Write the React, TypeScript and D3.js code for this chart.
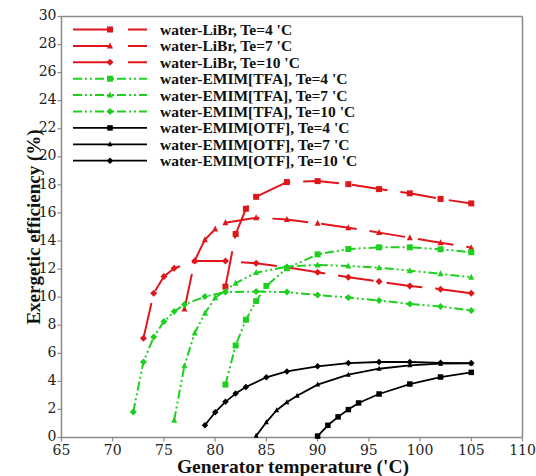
import React from "react";
import * as d3 from "d3";

const W = 536;
const H = 476;

// LiBr (red)
const librT4x = [81, 82, 83, 84, 87, 90, 93, 96, 99, 102, 105];
const librT4y = [10.75, 14.5, 16.3, 17.15, 18.2, 18.27, 18.05, 17.7, 17.4, 17.0, 16.68];
const librT7x = [77, 78, 79, 80, 81, 84, 87, 90, 93, 96, 99, 102, 105];
const librT7y = [9.15, 12.6, 14.1, 14.85, 15.3, 15.66, 15.54, 15.26, 14.95, 14.6, 14.24, 13.88, 13.53];
const librT10x = [73, 74, 75, 76, 78, 81, 84, 87, 90, 93, 96, 99, 102, 105];
const librT10y = [7.08, 10.28, 11.47, 12.06, 12.58, 12.58, 12.41, 12.13, 11.78, 11.42, 11.11, 10.8, 10.57, 10.28];

// EMIM[TFA] (green)
const tfaT4x = [81, 82, 83, 84, 85, 87, 90, 93, 96, 99, 102, 105];
const tfaT4y = [3.77, 6.56, 8.39, 9.72, 10.8, 12.06, 13.05, 13.43, 13.55, 13.55, 13.41, 13.2];
const tfaT7x = [76, 77, 78, 79, 80, 82, 84, 87, 90, 93, 96, 99, 102, 105];
const tfaT7y = [1.23, 5.12, 7.44, 8.86, 9.95, 11.0, 11.75, 12.17, 12.3, 12.22, 12.1, 11.89, 11.66, 11.42];
const tfaT10x = [72, 73, 74, 75, 76, 77, 79, 81, 84, 87, 90, 93, 96, 99, 102, 105];
const tfaT10y = [1.82, 5.38, 7.16, 8.27, 8.98, 9.48, 10.04, 10.36, 10.4, 10.36, 10.16, 9.97, 9.76, 9.52, 9.33, 9.05];

// EMIM[OTF] (black)
const otfT4x = [90, 91, 92, 93, 94, 96, 99, 102, 105];
const otfT4y = [0.1, 0.87, 1.47, 1.99, 2.46, 3.1, 3.81, 4.31, 4.64];
const otfT7x = [84, 85, 86, 87, 88, 90, 93, 96, 99, 102, 105];
const otfT7y = [0.12, 1.09, 1.94, 2.51, 2.98, 3.77, 4.48, 4.9, 5.14, 5.26, 5.28];
const otfT10x = [79, 80, 81, 82, 83, 85, 87, 90, 93, 96, 99, 102, 105];
const otfT10y = [0.87, 1.8, 2.54, 3.13, 3.6, 4.29, 4.71, 5.07, 5.3, 5.38, 5.38, 5.32, 5.3];

const xTicks = [65, 70, 75, 80, 85, 90, 95, 100, 105, 110];
const yTicks = [0, 2, 4, 6, 8, 10, 12, 14, 16, 18, 20, 22, 24, 26, 28, 30];

const RED = "#e0161b";
const GREEN = "#1ed01e";
const BLACK = "#000000";
const RED_DASH = "36,13";
const GREEN_DASH = "9,3,2,3,2,3";

type Shape = "square" | "triangle" | "diamond";
interface Series {
  name: string;
  xs: number[];
  ys: number[];
  color: string;
  dash: string | null;
  shape: Shape;
  width: number;
  msize: number;
}

const series: Series[] = [
  { name: "water-LiBr, Te=4 'C", xs: librT4x, ys: librT4y, color: RED, dash: RED_DASH, shape: "square", width: 2, msize: 6 },
  { name: "water-LiBr, Te=7 'C", xs: librT7x, ys: librT7y, color: RED, dash: RED_DASH, shape: "triangle", width: 2, msize: 6 },
  { name: "water-LiBr, Te=10 'C", xs: librT10x, ys: librT10y, color: RED, dash: RED_DASH, shape: "diamond", width: 2, msize: 7 },
  { name: "water-EMIM[TFA], Te=4 'C", xs: tfaT4x, ys: tfaT4y, color: GREEN, dash: GREEN_DASH, shape: "square", width: 2, msize: 6 },
  { name: "water-EMIM[TFA], Te=7 'C", xs: tfaT7x, ys: tfaT7y, color: GREEN, dash: GREEN_DASH, shape: "triangle", width: 2, msize: 6 },
  { name: "water-EMIM[TFA], Te=10 'C", xs: tfaT10x, ys: tfaT10y, color: GREEN, dash: GREEN_DASH, shape: "diamond", width: 2, msize: 7 },
  { name: "water-EMIM[OTF], Te=4 'C", xs: otfT4x, ys: otfT4y, color: BLACK, dash: null, shape: "square", width: 1.8, msize: 5.5 },
  { name: "water-EMIM[OTF], Te=7 'C", xs: otfT7x, ys: otfT7y, color: BLACK, dash: null, shape: "triangle", width: 1.8, msize: 5 },
  { name: "water-EMIM[OTF], Te=10 'C", xs: otfT10x, ys: otfT10y, color: BLACK, dash: null, shape: "diamond", width: 1.8, msize: 6.5 },
];

const x = d3.scaleLinear().domain([65, 110]).range([61.5, 522.5]);
const y = d3.scaleLinear().domain([0, 30]).range([437.5, 16.5]);

const SERIF_BOLD = '"Liberation Serif"';
const SERIF_REG = '"DejaVu Serif"';

function Marker({ cx, cy, shape, size, color }: { cx: number; cy: number; shape: Shape; size: number; color: string }) {
  const h = size / 2;
  if (shape === "square") {
    return <rect x={cx - h} y={cy - h} width={size} height={size} fill={color} />;
  }
  if (shape === "triangle") {
    const p = `${cx},${cy - h - 0.5} ${cx + h},${cy + h - 0.5} ${cx - h},${cy + h - 0.5}`;
    return <polygon points={p} fill={color} />;
  }
  const p = `${cx},${cy - h} ${cx + h},${cy} ${cx},${cy + h} ${cx - h},${cy}`;
  return <polygon points={p} fill={color} />;
}

export default function App() {
  const line = d3
    .line<[number, number]>()
    .x((d) => x(d[0]))
    .y((d) => y(d[1]));
  const axisColor = "#8a8a8a";
  const bold = { fontFamily: SERIF_BOLD };
  const reg = { fontFamily: SERIF_REG };

  return (
    <svg width={W} height={H} style={{ position: "absolute", left: 0, top: 0, background: "#fff" }}>
      <rect x={0} y={0} width={W} height={H} fill="#fff" />
      {/* frame */}
      <line x1={x(65)} x2={x(110)} y1={y(30)} y2={y(30)} stroke={axisColor} strokeWidth={1.5} />
      <line x1={x(110)} x2={x(110)} y1={y(30)} y2={y(0)} stroke={axisColor} strokeWidth={1.5} />
      <line x1={x(65)} x2={x(110)} y1={y(0)} y2={y(0)} stroke={axisColor} strokeWidth={1.5} />
      <line x1={x(65)} x2={x(65)} y1={y(30)} y2={y(0)} stroke={axisColor} strokeWidth={1.5} />

      {/* y ticks */}
      {yTicks.map((t) => (
        <g key={"y" + t}>
          <line x1={x(65) - 4} x2={x(65)} y1={y(t)} y2={y(t)} stroke={axisColor} strokeWidth={1.2} />
          <text x={x(65) - 5} y={y(t) - 1} dy="0.33em" textAnchor="end" fontSize={14} fontWeight="normal" fill="#222" style={reg}>
            {t}
          </text>
        </g>
      ))}
      {/* x ticks */}
      {xTicks.map((t) => (
        <g key={"x" + t}>
          <line x1={x(t)} x2={x(t)} y1={y(0)} y2={y(0) + 4} stroke={axisColor} strokeWidth={1.2} />
          <text x={x(t)} y={y(0) + 17} textAnchor="middle" fontSize={14} fontWeight="normal" fill="#222" style={reg}>
            {t}
          </text>
        </g>
      ))}

      {/* series */}
      {series.map((s, i) => {
        const pts = s.xs.map((v, j) => [v, s.ys[j]] as [number, number]);
        return (
          <g key={"s" + i}>
            <path
              d={line(pts) || ""}
              fill="none"
              stroke={s.color}
              strokeWidth={s.width}
              strokeDasharray={s.dash || undefined}
              strokeLinejoin="round"
            />
            {pts.map((p, j) => (
              <Marker key={j} cx={x(p[0])} cy={y(p[1])} shape={s.shape} size={s.msize} color={s.color} />
            ))}
          </g>
        );
      })}

      {/* legend */}
      {series.map((s, i) => {
        const ly = 29.5 + i * 16.4;
        return (
          <g key={"l" + i}>
            <line
              x1={73}
              x2={147}
              y1={ly}
              y2={ly}
              stroke={s.color}
              strokeWidth={s.width}
              strokeDasharray={s.dash ? (s.color === RED ? "37,18" : s.dash) : undefined}
            />
            <Marker cx={110} cy={ly} shape={s.shape} size={s.msize} color={s.color} />
            <text x={160} y={ly} dy="0.35em" fontSize={15.5} fontWeight="bold" fill="#111" style={bold}>
              {s.name}
            </text>
          </g>
        );
      })}

      {/* axis titles */}
      <text
        transform={`translate(40,${(y(0) + y(30)) / 2}) rotate(-90)`}
        textAnchor="middle"
        fontSize={19}
        fontWeight="bold"
        fill="#111"
        style={bold}
      >
        Exergetic efficiency (%)
      </text>
      <text x={293} y={473} textAnchor="middle" fontSize={19.5} fontWeight="bold" fill="#111" style={bold}>
        Generator temperature ('C)
      </text>
    </svg>
  );
}
